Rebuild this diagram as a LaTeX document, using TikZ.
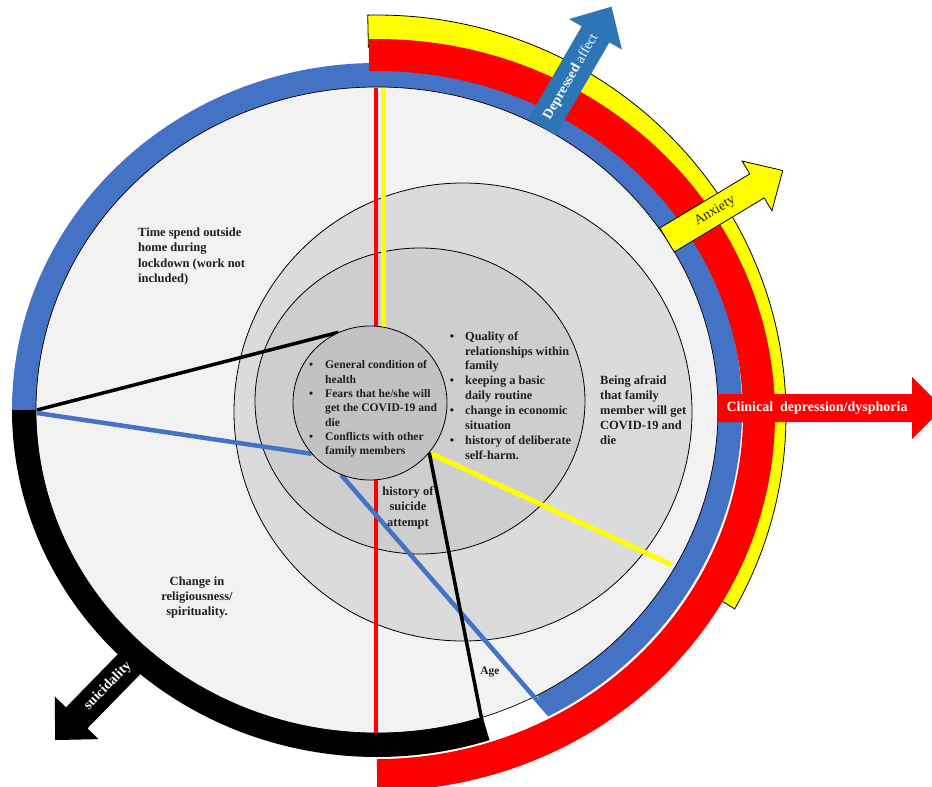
\documentclass[tikz,border=0pt]{standalone}
\usepackage{fontspec}
\setmainfont{Liberation Serif}
\usetikzlibrary{shapes.geometric}
\definecolor{ringblue}{HTML}{4472C4}
\definecolor{arrowblue}{HTML}{2E75B6}
\definecolor{diskgray}{HTML}{F2F2F2}
\definecolor{gtwo}{HTML}{DBDBDB}
\definecolor{gone}{HTML}{CECECE}
\definecolor{gzero}{HTML}{C2C2C2}
\definecolor{ink}{HTML}{1E1E1E}
\definecolor{pureyellow}{HTML}{FFFF00}
\definecolor{purered}{HTML}{FF0000}
\pgfdeclarelayer{bg}
\pgfdeclarelayer{lines}
\pgfsetlayers{bg,lines,main}
\tikzset{
  ringband/.style={line width=24pt},
  redband/.style={purered, line width=32pt},
  spoke/.style={line width=#1},
  lbl/.style={text=ink, inner sep=0pt, font=\fontsize{12.5}{15}\selectfont\bfseries},
  arrowtext/.style={inner sep=0pt, font=\fontsize{14}{16}\selectfont},
  outline/.style={draw=black, line width=0.8pt}
}
\begin{document}
\begin{tikzpicture}[x=1pt,y=-1pt]
\useasboundingbox (0,0) rectangle (932,787);
\begin{pgfonlayer}{bg}
\fill[white] (0,0) rectangle (932,787);
\node[ellipse, fill=diskgray, minimum width=682pt, minimum height=646pt, inner sep=0pt] (disk) at (377,410) {};
% yellow band (partly under the red one)
\filldraw[fill=pureyellow, outline] (377,415) ++(268.7:409 and 400)
  arc[start angle=268.7, end angle=389, x radius=409, y radius=400]
  -- ([shift={(377,415)}]389:380 and 368)
  arc[start angle=389, end angle=268.7, x radius=380, y radius=368] -- cycle;
% blue band
\draw[ringblue, ringband] (377,410) ++(180:353 and 335)
  arc[start angle=180, end angle=422, x radius=353, y radius=335];
% red band
\draw[redband] (377,415) ++(268.8:382 and 360)
  arc[start angle=268.8, end angle=450, x radius=382, y radius=360];
% black band
\draw[black, ringband] (377,410) ++(180:353 and 335)
  arc[start angle=180, end angle=72, x radius=353, y radius=335];
\draw[line width=0.7pt] (disk.center) ellipse[x radius=341, y radius=323];
\node[circle, fill=gtwo, draw=black, line width=0.8pt, minimum size=458pt, inner sep=0pt] (c2) at (463,412) {};
\node[ellipse, fill=gone, draw=black, line width=0.8pt, minimum width=330pt, minimum height=306pt, inner sep=0pt] (c1) at (420,401) {};
\end{pgfonlayer}

\node[circle, fill=gzero, draw=black, line width=0.8pt, minimum size=154pt, inner sep=0pt] (c0) at (370,403) {};

\begin{pgfonlayer}{lines}
\coordinate (redtop) at (376,88);
\coordinate (redbot) at (376,733);
\coordinate (yeltop) at (383.5,88);
\coordinate (yelbot) at (383.5,380);
\coordinate (lftA) at (37,410);
\coordinate (lftB) at (37,413);
\coordinate (blueend) at (549,714);
\coordinate (yelend) at (672,565);
\coordinate (ageend) at (483,726);
\draw[purered, spoke=4.5pt] (redtop) -- (redbot);
\draw[pureyellow, spoke=5pt] (yeltop) -- (yelbot);
\draw[black, spoke=3.5pt] (lftA) -- (c0.114);
\draw[ringblue, spoke=4.5pt] (lftB) -- (c0.221);
\draw[ringblue, spoke=4.5pt] (c0.248) -- (blueend);
\draw[pureyellow, spoke=5pt] (c0.320) -- (yelend);
\draw[black, spoke=3.5pt] (c0.320) -- (ageend);
\end{pgfonlayer}

% arrows
\begin{scope}[shift={(542,127)}, rotate=60]
  \fill[arrowblue] (0,-16) -- (107,-16) -- (107,-30.5) -- (139,0) -- (107,30.5) -- (107,16) -- (0,16) -- cycle;
  \node[arrowtext, rotate=60, text=white] (dep) at (58,0) {\textbf{Depressed} affect};
\end{scope}
\begin{scope}[shift={(667,240)}, rotate=31]
  \filldraw[fill=pureyellow, outline] (0,-14) -- (105,-14) -- (105,-29) -- (135,0) -- (105,29) -- (105,14) -- (0,14) -- cycle;
  \node[arrowtext, rotate=31, text=ink] (anx) at (56,0) {Anxiety};
\end{scope}
\begin{scope}[shift={(717,408)}]
  \fill[purered] (0,-14) -- (195,-14) -- (195,-31) -- (226,0) -- (195,31) -- (195,14) -- (0,14) -- cycle;
  \node[arrowtext, text=white] (clin) at (100,0) {\textbf{Clinical\enspace depression/dysphoria}};
\end{scope}
\begin{scope}[shift={(140,653)}, rotate=225.7]
  \fill[black] (0,-15) -- (90.6,-15) -- (90.6,-30.5) -- (121.6,0) -- (90.6,30.5) -- (90.6,15) -- (0,15) -- cycle;
  \node[arrowtext, rotate=45.7, text=white] (sui) at (46,0) {\textbf{suicidality}};
\end{scope}

% texts
\node[lbl, anchor=west, align=left, font=\fontsize{12.5}{15.6}\selectfont\bfseries] (ttime) at (138,256.5)
  {Time spend outside\\home during\\lockdown (work not\\included)};
\node[lbl, align=center, font=\fontsize{12.5}{14.6}\selectfont\bfseries] (tchange) at (197,597.5)
  {Change in\\religiousness/\\spirituality.};
\node[lbl, anchor=west, align=left, font=\fontsize{12.5}{15}\selectfont\bfseries] (tbeing) at (600,410)
  {Being afraid\\that family\\member will get\\COVID-19 and\\die};
\node[lbl, anchor=west, align=left, font=\fontsize{12.3}{14.9}\selectfont\bfseries] (tqual) at (465,395.5)
  {\llap{\textbullet\hspace{11pt}}Quality of\\relationships within\\family\\
   \llap{\textbullet\hspace{11pt}}keeping a basic\\daily routine\\
   \llap{\textbullet\hspace{11pt}}change in economic\\situation\\
   \llap{\textbullet\hspace{11pt}}history of deliberate\\self-harm.};
\node[lbl, anchor=west, align=left, font=\fontsize{11.6}{14.3}\selectfont\bfseries] (tgen) at (325,409)
  {\llap{\textbullet\hspace{12pt}}General condition of\\health\\
   \llap{\textbullet\hspace{12pt}}Fears that he/she will\\get the COVID-19 and\\die\\
   \llap{\textbullet\hspace{12pt}}Conflicts with other\\family members};
\node[lbl, align=center, font=\fontsize{12.5}{15.5}\selectfont\bfseries] (thist) at (408,507.5)
  {history of\\suicide\\attempt};
\node[lbl, font=\fontsize{11.5}{13}\selectfont\bfseries] (tage) at (490,672) {Age};
\end{tikzpicture}
\end{document}
